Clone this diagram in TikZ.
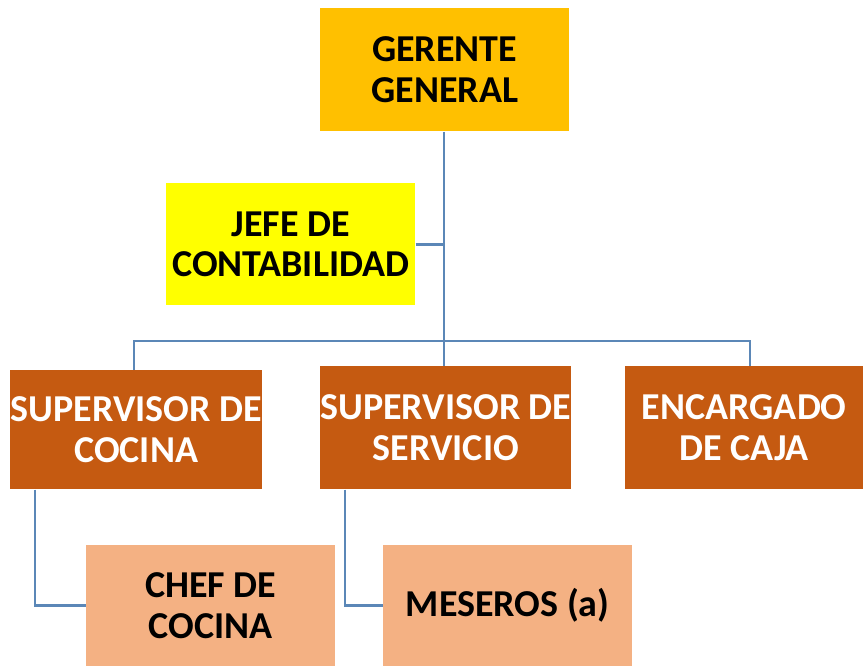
\documentclass[tikz,border=0pt]{standalone}
\usepackage{fontspec}
\setmainfont{Carlito}
\definecolor{gold}{HTML}{FFC000}
\definecolor{yel}{HTML}{FFFF00}
\definecolor{rust}{HTML}{C55A11}
\definecolor{peach}{HTML}{F4B183}
\definecolor{conn}{HTML}{5B87B7}
\begin{document}
\begin{tikzpicture}[x=0.75pt,y=-0.75pt,
  box/.style={draw=none,inner sep=0pt,align=center,font=\fontsize{28.5}{30.5}\selectfont\bfseries,anchor=north west},
  link/.style={draw=conn,line width=2pt}]
\useasboundingbox (0,0) rectangle (863,666);
\node[box,fill=gold,minimum width=249*0.75pt,minimum height=123*0.75pt] (ger) at (320,8) {GERENTE\\GENERAL};
\node[box,fill=yel,minimum width=249*0.75pt,minimum height=122*0.75pt] (jefe) at (166,183) {JEFE DE\\CONTABILIDAD};
\node[box,fill=rust,text=white,minimum width=252*0.75pt,minimum height=119*0.75pt] (supc) at (10,370) {SUPERVISOR DE\\COCINA};
\node[box,fill=rust,text=white,minimum width=250*0.75pt,minimum height=123*0.75pt] (sups) at (320,366) {SUPERVISOR DE\\SERVICIO};
\node[box,fill=rust,text=white,minimum width=238*0.75pt,minimum height=123*0.75pt] (enc) at (625,366) {ENCARGADO\\DE CAJA};
\node[box,fill=peach,minimum width=249*0.75pt,minimum height=121*0.75pt] (chef) at (86,545) {CHEF DE\\COCINA};
\node[box,fill=peach,minimum width=249*0.75pt,minimum height=121*0.75pt] (mes) at (383,545) {MESEROS (a)};
\coordinate (bar) at (444,341);
\draw[link] (ger.south -| bar) -- (bar);
\draw[link] (jefe.east) -- (jefe.east -| bar);
\draw[link] (supc.north -| 134,0) |- (bar) -| (enc.north -| 750,0);
\draw[link] (bar) -- (sups.north -| bar);
\draw[link] (supc.south -| 35,0) |- (chef.west);
\draw[link] (sups.south -| 345,0) |- (mes.west);
\end{tikzpicture}
\end{document}
